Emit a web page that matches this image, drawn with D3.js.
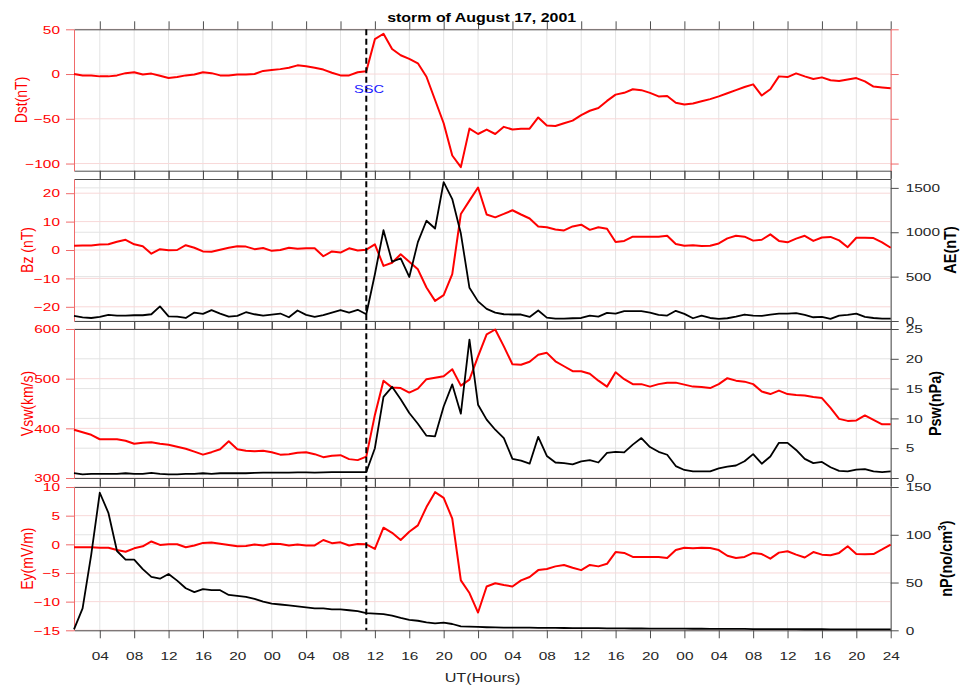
<!DOCTYPE html>
<html><head><meta charset="utf-8">
<script src="https://cdn.jsdelivr.net/npm/d3@7"></script>
<style>
body{margin:0;background:#fff}
svg{display:block}
text{font-family:"Liberation Sans",Arial,Helvetica,sans-serif}
</style>
</head><body>
<svg id="c" width="970" height="686"></svg>
<script>
// ---------------- DATA ----------------
const hours = [1,2,3,4,5,6,7,8,9,10,11,12,13,14,15,16,17,18,19,20,21,22,23,24,
25,26,27,28,29,30,31,32,33,34,35,36,37,38,39,40,41,42,43,44,45,46,47,48,
49,50,51,52,53,54,55,56,57,58,59,60,61,62,63,64,65,66,67,68,69,70,71,72,
73,74,75,76,77,78,79,80,81,82,83,84,85,86,87,88,89,90,91,92,93,94,95,96];

const xTickValues = [4,8,12,16,20,24,28,32,36,40,44,48,52,56,60,64,68,72,76,80,84,88,92,96];
const xTickLabels = ["04","08","12","16","20","00","04","08","12","16","20","00","04","08","12","16","20","00","04","08","12","16","20","24"];

const dst = [0,-1.5,-1.5,-2.6,-2.6,-1.5,1,2,-0.5,0.5,-2,-4.5,-3.4,-1.5,-0.5,2,1,-1.5,-1.5,-0.5,-0.5,0,3.5,4.5,5.5,7,9.7,8.6,7,5,1.5,-1.5,-1.5,2,3,39,45,28,21,17,12,-3,-29,-55,-91,-104,-61,-67,
-62,-67,-59,-62,-61,-61,-48.5,-57.5,-58,-55,-52,-46,-41,-38,-30,-23,-21,-17,-18,-21,-25,-24.5,-32,-34,-33,-30.5,-28,-25,-21.5,-18,-14.5,-11.5,-24,-17,-2.6,-3.4,0.7,-2.6,-5.6,-3.7,-7,-7.8,-6,-4.5,-8.2,-14,-15,-16];

const bz = [1.5,1.6,1.6,1.9,2,2.9,3.6,2,1.3,-1.3,0.3,-0.1,0,1.7,0.8,-0.5,-0.6,0.1,0.8,1.3,1.2,0.3,0.7,-0.3,0,0.8,0.4,0.6,0.6,-2.2,-0.5,-0.9,0.6,-0.2,0.1,2,-5.6,-4.5,-1.5,-4.1,-6.8,-13.2,-17.9,-15.9,-8.5,12.7,17.4,22,
12.5,11.5,12.7,14,12.5,11.1,8.3,8,7.2,6.9,8.3,8.9,7.1,8,7.5,2.8,3.2,4.7,4.7,4.7,4.7,5,2.1,1.5,1.7,1.4,1.5,2.3,4.1,5,4.7,3.3,3.6,5.5,3.2,2.7,4,5,3.2,4.4,4.6,3.4,1,4.3,4.3,4.2,2.7,0.8];

const ae = [57,42,34,46,69,61,61,65,65,76,164,53,50,34,95,80,122,84,50,57,99,76,61,73,84,42,118,69,46,65,95,122,95,126,76,527,1023,668,706,496,889,1130,1042,1565,1374,985,374,221,
137,95,76,73,73,46,118,38,27,27,31,34,61,50,92,84,111,111,111,95,69,61,115,80,31,61,34,23,31,50,73,61,57,73,84,84,88,69,42,46,23,61,69,84,46,34,27,27];

const vsw = [397,392,387,378,378,378,375,369,371,372,369,367,363,359,353,347,352,358,374,358,355,354,355,352,347,348,351,352,348,342,345,346,338,336,343,427,496,482,481,472,480,499,502,505,519,486,498,545,
589,599,565,529,528,534,548,552,535,525,515,515,510,496,484,513,499,489,489,484,489,492,492,488,484,483,481,489,501,496,494,489,474,469,476,469,467,466,463,461,441,419,415,416,426,417,408,408];

const psw = [0.8,0.6,0.7,0.7,0.7,0.7,0.8,0.7,0.7,0.85,0.7,0.6,0.6,0.7,0.7,0.8,0.7,0.8,0.8,0.8,0.8,0.85,0.9,0.9,0.9,0.9,0.95,0.95,0.9,0.95,1,1,1,1,1,5,13.6,15.3,13.2,10.9,9.1,7.1,7,12,15.7,10.8,23.2,12.3,
9.8,8.1,6.7,3.2,2.9,2.4,6.9,3.7,2.6,2.5,2.3,2.8,3,2.6,4.2,4.4,4.3,5.6,6.7,5.2,4.4,3.9,2,1.35,1.1,1.1,1.1,1.6,1.9,2.1,2.8,4,2.4,3.6,5.9,5.9,4.7,3.2,2.5,2.7,1.8,1.2,1.1,1.4,1.5,1.1,1,1.1];

const ey = [-0.5,-0.5,-0.5,-0.6,-0.6,-1,-1.3,-0.7,-0.35,0.5,-0.1,0,0,-0.5,-0.2,0.25,0.3,0.1,-0.1,-0.35,-0.3,-0.05,-0.2,0.1,0.05,-0.2,-0.05,-0.2,-0.2,0.75,0.2,0.35,-0.2,0.05,0,-0.8,2.9,2,0.75,2.2,3.3,6.5,9.1,8.1,4.5,-6.3,-8.5,-11.9,
-7.35,-6.8,-7.1,-7.35,-6.3,-5.7,-4.5,-4.3,-3.85,-3.6,-4.1,-4.5,-3.6,-3.85,-3.4,-1.35,-1.5,-2.2,-2.2,-2.2,-2.2,-2.4,-1,-0.6,-0.7,-0.6,-0.65,-1,-2,-2.4,-2.2,-1.5,-1.7,-2.5,-1.45,-1.2,-1.8,-2.3,-1.35,-1.8,-1.9,-1.5,-0.35,-1.7,-1.75,-1.7,-0.9,-0.05];

const np = [1,23,79,144,123,83,74,74,64,56,54,59,52,44,40,43,42,42,37,36,35,33,30,28,27,26,25,24,23,23,22,22,21,20,18,17.5,17,15.4,13,11,10,8.4,7.3,8,6.6,4.2,3.8,3.5,
3.2,3.0,2.9,2.8,2.8,2.7,2.6,2.5,2.5,2.4,2.3,2.3,2.2,2.2,2.1,2.0,2.0,1.9,1.9,1.8,1.8,1.8,1.7,1.7,1.6,1.6,1.5,1.5,1.5,1.4,1.4,1.3,1.3,1.3,1.2,1.2,1.2,1.1,1.1,1.1,1.0,1.0,1.0,1.0,0.9,0.9,0.9,0.9];

const dstTicks = [-100,-50,0,50];
const bzTicks = [-20,-10,0,10,20];
const aeTicks = [0,500,1000,1500];
const vswTicks = [300,400,500,600];
const pswTicks = [0,5,10,15,20,25];
const eyTicks = [-15,-10,-5,0,5,10];
const npTicks = [0,50,100,150];

const sscHour = 35;
const titleText = "storm of August 17, 2001";

// ---------------- LAYOUT ----------------
const X0 = 74, X1 = 890.7;
const SX = 1.33;           // horizontal text stretch seen in reference
const RED = "#ff0000", RED_AX = "#f06a6a", DARK = "#262626", AX = "#4d4d4d";
const x = d3.scaleLinear().domain([1, 96]).range([X0, X1]);
const svg = d3.select("#c");

function stretch(sel, sx) {
  sel.each(function () {
    const t = d3.select(this);
    const tx = +t.attr("x") || 0;
    t.attr("transform", `translate(${tx},0) scale(${sx},1) translate(${-tx},0)`);
  });
}

const panels = [
  {top: 29.3, bottom: 170.7,
   L: {data: dst, domain: [-108, 50], ticks: dstTicks, label: "Dst(nT)", lx: 26.5},
   R: {data: null, domain: [-108, 50], ticks: dstTicks, red: true}},
  {top: 179, bottom: 321,
   L: {data: bz, domain: [-25, 25], ticks: bzTicks, label: "Bz (nT)", lx: 33},
   R: {data: ae, domain: [0, 1600], ticks: aeTicks, label: "AE(nT)", lx: 956}},
  {top: 329, bottom: 478,
   L: {data: vsw, domain: [300, 600], ticks: vswTicks, label: "Vsw(km/s)", lx: 33},
   R: {data: psw, domain: [0, 25], ticks: pswTicks, label: "Psw(nPa)", lx: 941}},
  {top: 487, bottom: 630.3,
   L: {data: ey, domain: [-15, 10], ticks: eyTicks, label: "Ey(mV/m)", lx: 33},
   R: {data: np, domain: [0, 150], ticks: npTicks, label: "nP(no/cm3)", lx: 952, sup: true}}
];

const gGrid = svg.append("g");
const gAxes = svg.append("g");
const gData = svg.append("g");

panels.forEach((p, i) => {
  const yL = d3.scaleLinear().domain(p.L.domain).range([p.bottom, p.top]);
  const yR = d3.scaleLinear().domain(p.R.domain).range([p.bottom, p.top]);

  // grid
  gGrid.selectAll(null).data(xTickValues).enter().append("line")
    .attr("x1", d => x(d)).attr("x2", d => x(d))
    .attr("y1", p.top).attr("y2", p.bottom)
    .attr("stroke", "#e3e3e3").attr("stroke-width", 1);
  if (p.R.data) {
    gGrid.selectAll(null).data(p.R.ticks).enter().append("line")
      .attr("x1", X0).attr("x2", X1)
      .attr("y1", d => yR(d)).attr("y2", d => yR(d))
      .attr("stroke", "#e3e3e3").attr("stroke-width", 1);
  }
  gGrid.selectAll(null).data(p.L.ticks).enter().append("line")
    .attr("x1", X0).attr("x2", X1)
    .attr("y1", d => yL(d)).attr("y2", d => yL(d))
    .attr("stroke", "#f8d8d8").attr("stroke-width", 1);

  // x axes (top and bottom, ticks outward)
  const top = gAxes.append("g").attr("transform", `translate(0,${p.top})`)
    .call(d3.axisTop(x).tickValues(xTickValues).tickSize(8).tickSizeOuter(0).tickFormat(""));
  const bot = gAxes.append("g").attr("transform", `translate(0,${p.bottom})`)
    .call(d3.axisBottom(x).tickValues(xTickValues).tickSize(8).tickSizeOuter(0).tickPadding(13)
      .tickFormat((d, k) => i === 3 ? xTickLabels[k] : ""));
  [top, bot].forEach(a => {
    a.select(".domain").attr("stroke", AX);
    a.selectAll(".tick line").attr("stroke", AX);
    a.selectAll(".tick text").attr("fill", DARK).attr("font-size", 11.6)
      .attr("font-family", '"Liberation Sans",Arial,sans-serif');
    stretch(a.selectAll(".tick text"), SX);
  });

  // left axis
  const la = gAxes.append("g").attr("transform", `translate(${X0},0)`)
    .call(d3.axisLeft(yL).tickValues(p.L.ticks).tickSize(8).tickSizeOuter(0).tickPadding(6));
  la.select(".domain").attr("stroke", RED_AX);
  la.selectAll(".tick line").attr("stroke", RED_AX);
  la.selectAll(".tick text").attr("fill", RED).attr("font-size", 11.6)
    .attr("font-family", '"Liberation Sans",Arial,sans-serif');
  stretch(la.selectAll(".tick text"), SX);

  // right axis
  const ra = gAxes.append("g").attr("transform", `translate(${X1},0)`)
    .call(d3.axisRight(yR).tickValues(p.R.ticks).tickSize(8).tickSizeOuter(0).tickPadding(7)
      .tickFormat(p.R.red ? "" : d3.format("d")));
  ra.select(".domain").attr("stroke", p.R.red ? RED_AX : AX);
  ra.selectAll(".tick line").attr("stroke", p.R.red ? RED_AX : AX);
  ra.selectAll(".tick text").attr("fill", DARK).attr("font-size", 11.6)
    .attr("font-family", '"Liberation Sans",Arial,sans-serif');
  stretch(ra.selectAll(".tick text"), SX);

  // data lines
  const lineL = d3.line().x((d, k) => x(hours[k])).y(d => yL(d));
  gData.append("path").datum(p.L.data).attr("d", lineL)
    .attr("fill", "none").attr("stroke", RED).attr("stroke-width", 2)
    .attr("stroke-linejoin", "round");
  if (p.R.data) {
    const lineR = d3.line().x((d, k) => x(hours[k])).y(d => yR(d));
    gData.append("path").datum(p.R.data).attr("d", lineR)
      .attr("fill", "none").attr("stroke", "#000").attr("stroke-width", 1.8)
      .attr("stroke-linejoin", "round");
  }

  // axis labels
  const cy = (p.top + p.bottom) / 2;
  svg.append("text").text(p.L.label)
    .attr("transform", `translate(${p.L.lx},${cy}) scale(1.15,1) rotate(-90)`)
    .attr("text-anchor", "middle").attr("font-size", 14).attr("fill", RED);
  if (p.R.label) {
    const t = svg.append("text")
      .attr("transform", `translate(${p.R.lx},${cy}) scale(1.15,1) rotate(-90)`)
      .attr("text-anchor", "middle").attr("font-size", 14.5).attr("font-weight", "bold").attr("fill", "#000");
    if (p.R.sup) {
      t.append("tspan").text("nP(no/cm");
      t.append("tspan").text("3").attr("font-size", 10).attr("dy", -5);
      t.append("tspan").text(")").attr("dy", 5);
    } else {
      t.text(p.R.label);
    }
  }
});

// SSC dashed line
svg.append("line")
  .attr("x1", x(sscHour)).attr("x2", x(sscHour))
  .attr("y1", panels[0].top).attr("y2", panels[3].bottom)
  .attr("stroke", "#000").attr("stroke-width", 2).attr("stroke-dasharray", "6,3.5");

// SSC label
const ssc = svg.append("text").text("SSC").attr("x", 369).attr("y", 93.3)
  .attr("text-anchor", "middle").attr("font-size", 11).attr("fill", "#1a1aff");
stretch(ssc, SX);

// title
const title = svg.append("text").text(titleText).attr("x", 481.7).attr("y", 22.5)
  .attr("text-anchor", "middle").attr("font-size", 12).attr("font-weight", "bold").attr("fill", "#000");
stretch(title, SX);

// x label
const xl = svg.append("text").text("UT(Hours)").attr("x", 482.5).attr("y", 682)
  .attr("text-anchor", "middle").attr("font-size", 12.2).attr("fill", DARK);
stretch(xl, SX);
</script>
</body></html>
